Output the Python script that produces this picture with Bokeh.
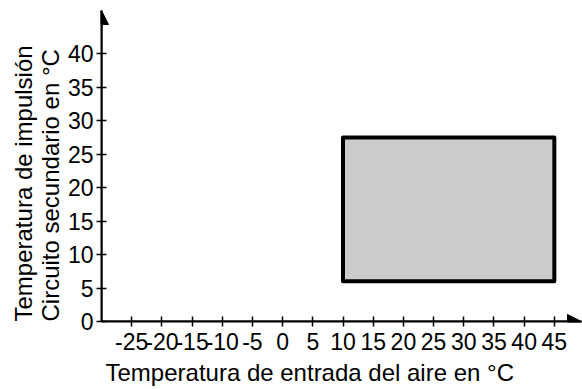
from bokeh.plotting import figure
from bokeh.models import Range1d, FixedTicker, Arrow, NormalHead, Title
from bokeh.embed import file_html
from bokeh.resources import INLINE

# ---- data ----
x_ticks = [-25, -20, -15, -10, -5, 0, 5, 10, 15, 20, 25, 30, 35, 40, 45]
y_ticks = [0, 5, 10, 15, 20, 25, 30, 35, 40]
zone_left = [10]
zone_right = [45]
zone_bottom = [6]
zone_top = [27.5]
x_title = "Temperatura de entrada del aire en °C"
y_title = "Temperatura de impulsión\nCircuito secundario en °C"

X_MIN, X_MAX = -30, 49.5
Y_MIN, Y_MAX = 0, 46.5
FONT = "Liberation Sans"

p = figure(width=582, height=389, output_backend="svg", toolbar_location=None,
           x_range=Range1d(X_MIN, X_MAX), y_range=Range1d(Y_MIN, Y_MAX),
           min_border_left=101, min_border_right=1, min_border_top=10,
           min_border_bottom=68)
p.outline_line_color = None
p.grid.visible = False
p.background_fill_color = "white"
p.border_fill_color = "white"

p.xaxis.ticker = FixedTicker(ticks=x_ticks)
p.yaxis.ticker = FixedTicker(ticks=y_ticks)
p.xaxis.major_label_overrides = {t: str(t) for t in x_ticks}
p.yaxis.major_label_overrides = {t: str(t) for t in y_ticks}

for ax in p.axis:
    ax.axis_line_width = 2
    ax.axis_line_color = "black"
    ax.major_tick_line_width = 1.5
    ax.major_tick_line_color = "black"
    ax.major_tick_in = 5
    ax.major_tick_out = 5
    ax.minor_tick_in = 0
    ax.minor_tick_out = 0
    ax.major_label_text_font = FONT
    ax.major_label_text_font_size = "23px"
    ax.major_label_text_color = "black"

p.xaxis.major_label_standoff = 6
p.yaxis.major_label_standoff = 3

p.quad(left=zone_left, right=zone_right, bottom=zone_bottom, top=zone_top,
       fill_color="#cccccc", line_color="black", line_width=4, line_join="round")

p.add_layout(Arrow(end=NormalHead(size=14, fill_color="black", line_color="black"),
                   x_start=X_MIN, y_start=0, x_end=X_MAX, y_end=0,
                   line_width=2, line_color="black"))
p.add_layout(Arrow(end=NormalHead(size=14, fill_color="black", line_color="black"),
                   x_start=X_MIN, y_start=0, x_end=X_MIN, y_end=Y_MAX,
                   line_width=2, line_color="black"))

# axis titles, start-aligned as in the original
p.add_layout(Title(text=x_title, align="left", offset=4, standoff=8,
                   text_font=FONT, text_font_size="24px",
                   text_font_style="normal", text_color="black"), "below")
p.add_layout(Title(text=y_title, align="left", offset=0, standoff=2,
                   text_font=FONT, text_font_size="24px",
                   text_font_style="normal", text_color="black",
                   text_line_height=1.0), "left")

open("out.html", "w").write(file_html(p, INLINE))
